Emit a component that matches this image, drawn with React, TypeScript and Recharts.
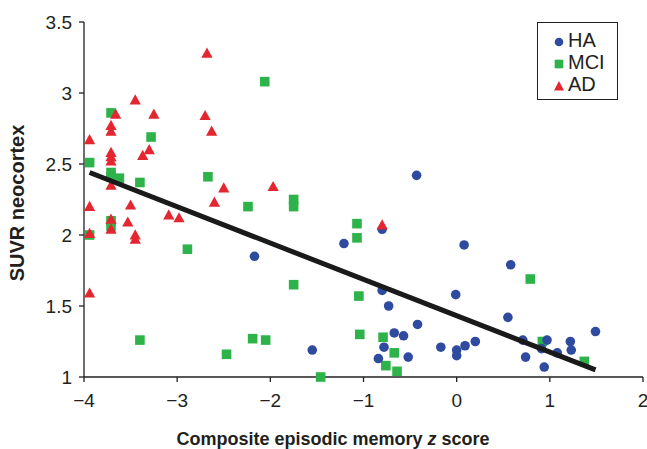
import { ScatterChart, Scatter, XAxis, YAxis, Label } from "recharts"

// ============ Data ============
// [z score, SUVR]
const haPoints = [
  [-2.17, 1.85], [-0.43, 2.42], [-0.8, 2.04], [-1.21, 1.94], [-0.8, 1.61],
  [-0.73, 1.5], [-0.01, 1.58], [-0.42, 1.37], [-0.67, 1.31], [-0.57, 1.29],
  [-0.78, 1.21], [-1.55, 1.19], [-0.17, 1.21], [0.0, 1.19], [0.0, 1.15],
  [-0.84, 1.13], [-0.52, 1.14], [0.08, 1.93], [0.58, 1.79], [0.55, 1.42],
  [1.49, 1.32], [0.09, 1.22], [0.2, 1.25], [0.71, 1.26], [0.97, 1.26],
  [0.91, 1.2], [1.08, 1.17], [1.22, 1.25], [1.23, 1.19], [0.74, 1.14],
  [0.94, 1.07],
]

const mciPoints = [
  [-2.06, 3.08], [-3.71, 2.86], [-3.28, 2.69], [-3.94, 2.51], [-3.71, 2.44],
  [-3.71, 2.41], [-3.62, 2.4], [-3.4, 2.37], [-2.67, 2.41], [-2.24, 2.2],
  [-3.71, 2.1], [-3.71, 2.06], [-3.94, 2.0], [-2.89, 1.9], [-3.4, 1.26],
  [-2.19, 1.27], [-2.05, 1.26], [-2.47, 1.16], [-1.75, 2.25], [-1.75, 2.2],
  [-1.07, 2.08], [-1.07, 1.98], [-1.75, 1.65], [-1.05, 1.57], [-1.04, 1.3],
  [-0.79, 1.28], [-0.67, 1.17], [-0.76, 1.08], [-0.64, 1.04], [-1.46, 1.0],
  [0.79, 1.69], [0.92, 1.25], [1.37, 1.11],
]

const adPoints = [
  [-2.68, 3.28], [-3.45, 2.95], [-3.66, 2.85], [-3.25, 2.85], [-2.7, 2.84],
  [-3.71, 2.77], [-3.71, 2.73], [-2.63, 2.73], [-3.94, 2.67], [-3.71, 2.58],
  [-3.71, 2.55], [-3.71, 2.52], [-3.3, 2.6], [-3.37, 2.56], [-3.71, 2.35],
  [-2.5, 2.33], [-1.97, 2.34], [-3.94, 2.2], [-3.5, 2.21], [-2.6, 2.23],
  [-3.09, 2.14], [-2.98, 2.12], [-3.71, 2.11], [-3.53, 2.09], [-3.71, 2.04],
  [-3.94, 2.01], [-3.45, 2.0], [-3.45, 1.97], [-3.94, 1.59], [-0.8, 2.07],
]

// regression line end points
const fitLine = [
  [-3.94, 2.44],
  [1.49, 1.05],
]

const xTicks = [-4, -3, -2, -1, 0, 1, 2]
const yTicks = [1, 1.5, 2, 2.5, 3, 3.5]

const toXY = (arr: number[][]) => arr.map(([x, y]) => ({ x, y }))

const BLUE = "#2f4ba0"
const GREEN = "#2db34a"
const RED = "#e3262f"
const AXIS = "#231f20"
const FONT = "'Liberation Sans', Arial, Helvetica, sans-serif"

// ============ Marker shapes ============
const Dot = ({ cx, cy }: any) => <circle cx={cx} cy={cy} r={4.8} fill={BLUE} />
const Sq = ({ cx, cy }: any) => (
  <rect x={cx - 4.8} y={cy - 4.8} width={9.6} height={9.6} fill={GREEN} />
)
const Tri = ({ cx, cy }: any) => (
  <polygon
    points={`${cx},${cy - 5.8} ${cx - 5.6},${cy + 4.4} ${cx + 5.6},${cy + 4.4}`}
    fill={RED}
  />
)
const NoShape = () => <g />

const legendItems = [
  { name: "HA", color: BLUE, kind: "circle" },
  { name: "MCI", color: GREEN, kind: "square" },
  { name: "AD", color: RED, kind: "triangle" },
]

// legend drawn as an overlay box (top right of the plot)
const LegendBox = () => (
  <div
    style={{
      position: "absolute",
      left: 537,
      top: 22,
      width: 81,
      height: 78,
      boxSizing: "border-box",
      border: `1.3px solid ${AXIS}`,
      background: "#fff",
      paddingTop: 6,
      paddingLeft: 15,
      fontFamily: FONT,
      fontSize: 20,
      color: AXIS,
      lineHeight: "22px",
    }}
  >
    {legendItems.map((it) => (
      <div key={it.name} style={{ display: "flex", alignItems: "center" }}>
        <svg width={12} height={12} style={{ marginRight: 3, marginTop: 3 }}>
          {it.kind === "circle" && <circle cx={6} cy={6} r={4.3} fill={it.color} />}
          {it.kind === "square" && <rect x={1.7} y={1.7} width={8.6} height={8.6} fill={it.color} />}
          {it.kind === "triangle" && <polygon points="6,1 1,10.5 11,10.5" fill={it.color} />}
        </svg>
        <span>{it.name}</span>
      </div>
    ))}
  </div>
)

const fmt = (v: number) => String(v).replace("-", "\u2212")

export default function App() {
  return (
    <div style={{ position: "absolute", left: 0, top: 0, width: 647, height: 449, background: "#fff" }}>
      <ScatterChart
        width={647}
        height={449}
        margin={{ top: 22, right: 4, bottom: 0, left: 0 }}
        style={{ fontFamily: FONT }}
      >
        <XAxis
          type="number"
          dataKey="x"
          domain={[-4, 2]}
          ticks={xTicks}
          tickFormatter={fmt}
          height={72}
          tickSize={5}
          tickMargin={12}
          axisLine={{ stroke: AXIS, strokeWidth: 1.3 }}
          tickLine={{ stroke: AXIS, strokeWidth: 1.3 }}
          tick={{ fill: AXIS, fontSize: 19, fontFamily: FONT }}
          interval={0}
        >
          <Label
            content={() => (
              <text
                x={333}
                y={445}
                textAnchor="middle"
                fontSize={18}
                fontWeight="bold"
                fontFamily={FONT}
                fill={AXIS}
              >
                Composite episodic memory <tspan fontStyle="italic">z</tspan> score
              </text>
            )}
          />
        </XAxis>
        <YAxis
          type="number"
          dataKey="y"
          domain={[1, 3.5]}
          ticks={yTicks}
          width={84}
          tickSize={5}
          tickMargin={7}
          axisLine={{ stroke: AXIS, strokeWidth: 1.3 }}
          tickLine={{ stroke: AXIS, strokeWidth: 1.3 }}
          tick={{ fill: AXIS, fontSize: 19, fontFamily: FONT }}
          interval={0}
        >
          <Label
            content={() => (
              <text
                x={24}
                y={203}
                transform="rotate(-90 24 203)"
                textAnchor="middle"
                fontSize={20}
                fontWeight="bold"
                fontFamily={FONT}
                fill={AXIS}
              >
                SUVR neocortex
              </text>
            )}
          />
        </YAxis>
        <Scatter name="MCI" data={toXY(mciPoints)} shape={<Sq />} isAnimationActive={false} />
        <Scatter name="HA" data={toXY(haPoints)} shape={<Dot />} isAnimationActive={false} />
        <Scatter name="AD" data={toXY(adPoints)} shape={<Tri />} isAnimationActive={false} />
        <Scatter
          name="fit"
          data={toXY(fitLine)}
          shape={<NoShape />}
          line={{ stroke: "#1a1a1a", strokeWidth: 5 }}
          legendType="none"
          isAnimationActive={false}
        />
      </ScatterChart>
      <LegendBox />
    </div>
  )
}
